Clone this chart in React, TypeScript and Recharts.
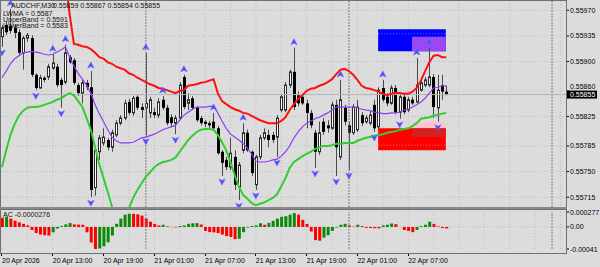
import React from "react";
import {
  ComposedChart,
  Bar,
  Line,
  Scatter,
  XAxis,
  YAxis,
  CartesianGrid,
  ReferenceLine,
  ReferenceArea,
  Cell,
} from "recharts";

const FONT = '"Liberation Sans", Arial, sans-serif';
const BG = "#dcdcdc";

// AUDCHF M30, bars from 20 Apr 07:00 to 22 Apr 11:30
const open = [
  0.55934, 0.5595, 0.55949, 0.55946, 0.5594, 0.55912, 0.55932, 0.55932, 0.55882, 0.55864,
  0.55878, 0.55879, 0.55891, 0.55893, 0.55875, 0.55872, 0.55906, 0.55902, 0.55868, 0.55857,
  0.55871, 0.55865, 0.55728, 0.55777, 0.55789, 0.55793, 0.55783, 0.558, 0.55816, 0.55823,
  0.55845, 0.5583, 0.55852, 0.55838, 0.55837, 0.5583, 0.55831, 0.55827, 0.55848, 0.55837,
  0.55824, 0.55816, 0.55823, 0.55879, 0.55843, 0.5585, 0.55837, 0.55823, 0.55818, 0.55816,
  0.55818, 0.55809, 0.55777, 0.55766, 0.55756, 0.5577, 0.55729, 0.55779, 0.55803, 0.55777,
  0.55732, 0.5577, 0.55796, 0.558, 0.558, 0.55797, 0.55834, 0.55834, 0.55868, 0.55886,
  0.55854, 0.55852, 0.55843, 0.5583, 0.55803, 0.55777, 0.55818, 0.55813, 0.55809, 0.55841,
  0.5577, 0.55837, 0.55813, 0.55803, 0.55807, 0.55827, 0.55818, 0.55816, 0.55841, 0.55811,
  0.55864, 0.55852, 0.55843, 0.55864, 0.55831, 0.55852, 0.55834, 0.55848, 0.55845, 0.55861,
  0.55868, 0.55868, 0.55879, 0.55837, 0.55868, 0.55859,
];
const high = [
  0.5595, 0.55954, 0.55972, 0.55951, 0.55944, 0.55935, 0.55939, 0.55936, 0.55884, 0.55882,
  0.5588, 0.55897, 0.5591, 0.55897, 0.55878, 0.55923, 0.55909, 0.55905, 0.55871, 0.55875,
  0.55875, 0.55887, 0.55783, 0.558, 0.55809, 0.55796, 0.55807, 0.5582, 0.55827, 0.55848,
  0.55849, 0.55853, 0.55854, 0.55843, 0.55912, 0.55852, 0.55837, 0.5585, 0.55853, 0.55841,
  0.55828, 0.55827, 0.55872, 0.55882, 0.55857, 0.55853, 0.55839, 0.55826, 0.5582, 0.55819,
  0.5583, 0.55812, 0.55779, 0.5577, 0.55796, 0.55779, 0.55763, 0.55816, 0.55807, 0.55779,
  0.55773, 0.558, 0.55809, 0.55807, 0.55804, 0.55827, 0.55856, 0.55872, 0.55889, 0.55919,
  0.55859, 0.55856, 0.55848, 0.55834, 0.55807, 0.55818, 0.55823, 0.5582, 0.55845, 0.55848,
  0.55875, 0.55841, 0.55818, 0.55842, 0.55848, 0.55831, 0.55827, 0.55833, 0.55848, 0.55865,
  0.55875, 0.55857, 0.55868, 0.55868, 0.55857, 0.55857, 0.55852, 0.55852, 0.55905, 0.55875,
  0.55879, 0.55919, 0.55883, 0.55882, 0.55882, 0.55867,
];
const low = [
  0.5592, 0.55936, 0.55938, 0.55932, 0.55909, 0.55889, 0.55927, 0.55879, 0.55861, 0.55863,
  0.55872, 0.55875, 0.55889, 0.55865, 0.55837, 0.55869, 0.55897, 0.55868, 0.55853, 0.55843,
  0.55861, 0.55715, 0.55717, 0.55766, 0.55785, 0.55779, 0.55777, 0.55797, 0.55813, 0.5582,
  0.55827, 0.55826, 0.55834, 0.55823, 0.55799, 0.55823, 0.55823, 0.55823, 0.55834, 0.55813,
  0.55812, 0.55801, 0.5582, 0.55835, 0.55834, 0.55834, 0.55818, 0.55813, 0.55811, 0.55809,
  0.55807, 0.55773, 0.55744, 0.55752, 0.55752, 0.55725, 0.55711, 0.55775, 0.55777, 0.55744,
  0.55725, 0.55766, 0.55793, 0.55783, 0.55789, 0.5577, 0.55831, 0.55831, 0.55864, 0.55834,
  0.55839, 0.55841, 0.55809, 0.55809, 0.55755, 0.55773, 0.558, 0.55803, 0.55807, 0.55744,
  0.55766, 0.55813, 0.55752, 0.558, 0.55804, 0.55812, 0.55815, 0.55813, 0.55804, 0.55807,
  0.55845, 0.55839, 0.55841, 0.55828, 0.55822, 0.55828, 0.55831, 0.55841, 0.55843, 0.55859,
  0.55865, 0.55865, 0.55823, 0.55818, 0.55848, 0.55854,
];
const close = [
  0.55946, 0.5594, 0.55942, 0.55939, 0.55912, 0.55932, 0.55936, 0.55882, 0.55864, 0.55878,
  0.55875, 0.55893, 0.55898, 0.55868, 0.55868, 0.55912, 0.55899, 0.55871, 0.55857, 0.55871,
  0.55865, 0.55725, 0.55779, 0.55796, 0.55797, 0.55783, 0.55803, 0.55816, 0.55823, 0.55843,
  0.5583, 0.5585, 0.55837, 0.55834, 0.55843, 0.55848, 0.55827, 0.55845, 0.55837, 0.55816,
  0.55816, 0.55823, 0.55868, 0.55838, 0.55848, 0.55837, 0.5582, 0.55816, 0.55815, 0.55813,
  0.55809, 0.55775, 0.55762, 0.55756, 0.55775, 0.55732, 0.55759, 0.55803, 0.55779, 0.55748,
  0.5577, 0.55796, 0.55803, 0.55793, 0.55793, 0.55823, 0.55852, 0.55868, 0.55886, 0.55838,
  0.55843, 0.55843, 0.5583, 0.55813, 0.55777, 0.55803, 0.55804, 0.55809, 0.55841, 0.55783,
  0.55848, 0.55818, 0.55803, 0.55838, 0.55838, 0.55816, 0.55823, 0.55827, 0.55809, 0.55861,
  0.55848, 0.55843, 0.55864, 0.55831, 0.55852, 0.55831, 0.55848, 0.55843, 0.55868, 0.55871,
  0.55875, 0.55879, 0.55838, 0.55861, 0.55859, 0.55855,
];

const lwma = [
  0.55878, 0.55887, 0.55897, 0.55904, 0.55908, 0.55912, 0.55913, 0.55914, 0.55913, 0.55912,
  0.5591, 0.55909, 0.5591, 0.55913, 0.55916, 0.5592, 0.55906, 0.55894, 0.55884, 0.55876,
  0.55868, 0.55857, 0.55841, 0.55829, 0.55818, 0.55807, 0.55797, 0.55792, 0.55789, 0.55789,
  0.55789, 0.5579, 0.55793, 0.55796, 0.55797, 0.55799, 0.55801, 0.55804, 0.55807, 0.55809,
  0.55811, 0.55813, 0.5582, 0.55827, 0.55831, 0.55835, 0.55838, 0.55838, 0.55838, 0.55839,
  0.55839, 0.5583, 0.55819, 0.55809, 0.55801, 0.55797, 0.55793, 0.55788, 0.55782, 0.55774,
  0.55764, 0.55763, 0.55763, 0.55764, 0.55766, 0.55767, 0.55771, 0.55777, 0.55785, 0.55796,
  0.55804, 0.55811, 0.55816, 0.55819, 0.55822, 0.55824, 0.55827, 0.5583, 0.55834, 0.55838,
  0.55838, 0.55838, 0.55838, 0.55838, 0.55837, 0.55835, 0.55834, 0.55833, 0.55831, 0.5583,
  0.55829, 0.55829, 0.5583, 0.5583, 0.55831, 0.55834, 0.55835, 0.55838, 0.55841, 0.55845,
  0.5585, 0.55857, 0.55864, 0.55865, 0.55867, 0.55867,
];
const upperBand = [
  0.56066, 0.56066, 0.56063, 0.5606, 0.56058, 0.56055, 0.56052, 0.56049, 0.56047, 0.56044,
  0.56041, 0.56039, 0.56036, 0.56033, 0.56025, 0.56011, 0.55964, 0.55924, 0.55923, 0.55921,
  0.5592, 0.55917, 0.55912, 0.55906, 0.55904, 0.55899, 0.55897, 0.55893, 0.55891, 0.55889,
  0.55884, 0.55882, 0.55878, 0.55875, 0.55872, 0.55869, 0.55867, 0.55864, 0.55863, 0.55861,
  0.55859, 0.55857, 0.5586, 0.55861, 0.55867, 0.55868, 0.55869, 0.55871, 0.55872, 0.55874,
  0.55876, 0.55857, 0.55846, 0.55842, 0.55838, 0.55835, 0.55833, 0.5583, 0.55829, 0.55826,
  0.55823, 0.5582, 0.55818, 0.55816, 0.55816, 0.55816, 0.55819, 0.55824, 0.55834, 0.55842,
  0.55849, 0.55854, 0.5586, 0.55863, 0.55864, 0.55867, 0.55869, 0.55872, 0.55876, 0.55883,
  0.55889, 0.5589, 0.55887, 0.55882, 0.55875, 0.55867, 0.55864, 0.55863, 0.55861, 0.55859,
  0.55856, 0.55854, 0.55856, 0.55857, 0.55857, 0.55856, 0.55856, 0.55859, 0.55864, 0.55874,
  0.55887, 0.55899, 0.55908, 0.55909, 0.55906, 0.55906,
];
const lowerBand = [
  0.55756, 0.55779, 0.558, 0.55815, 0.55826, 0.55833, 0.55837, 0.55838, 0.55838, 0.55839,
  0.55841, 0.55843, 0.55845, 0.55848, 0.5585, 0.55854, 0.55857, 0.55854, 0.55846, 0.55838,
  0.55823, 0.55807, 0.55783, 0.5576, 0.55741, 0.55722, 0.55702, 0.55687, 0.55681, 0.55687,
  0.557, 0.55714, 0.55725, 0.55734, 0.55743, 0.55749, 0.55756, 0.5576, 0.55763, 0.55764,
  0.55766, 0.55769, 0.55777, 0.55785, 0.55793, 0.55799, 0.55804, 0.55807, 0.55808, 0.55808,
  0.55807, 0.558, 0.5579, 0.55779, 0.55763, 0.55745, 0.55729, 0.55718, 0.55713, 0.55707,
  0.55704, 0.55706, 0.55708, 0.55711, 0.55714, 0.55719, 0.5573, 0.55741, 0.55755, 0.55763,
  0.55767, 0.55771, 0.55774, 0.55777, 0.55781, 0.55783, 0.55785, 0.55785, 0.55786, 0.55788,
  0.55788, 0.55789, 0.55789, 0.55789, 0.55792, 0.55794, 0.55796, 0.55797, 0.55799, 0.558,
  0.55801, 0.55803, 0.55804, 0.55805, 0.55807, 0.55808, 0.55809, 0.55812, 0.55816, 0.55822,
  0.55823, 0.55824, 0.55826, 0.55827, 0.55829, 0.5583,
];

// Accelerator oscillator
const ac = [
  0.000171, 0.000188, 0.000154, 0.000114, 0.000085, 0.000057, 0.000028, -0.000057, -0.000114, -0.000142,
  -0.000154, -0.00016, -0.0001, -0.00003, 0.000018, 0.000047, 0.000071, 0.000047, 0.000042, 0.00004,
  -0.0001, -0.00029, -0.00041, -0.0004, -0.00036, -0.000285, -0.00016, 0.000057, 0.000154, 0.000228,
  0.000245, 0.000242, 0.000233, 0.00021, 0.000154, 0.000097, 0.000057, 0.000028, 0.00004, 0.000011,
  -0.000005, -0.00001, 0.000017, 0.000028, 0.000057, 0.000068, 0.00007, 0.000045, -0.000074, -0.000097,
  -0.000102, -0.000114, -0.000142, -0.000171, -0.000188, -0.000228, -0.00022, -0.000097, -0.000011, 0.000017,
  0.000028, 0.000068, 0.00004, 0.000074, 0.000114, 0.000154, 0.000188, 0.000199, 0.000228, 0.000256,
  0.000228, 0.000131, 0.000057, -0.000085, -0.000245, -0.000256, -0.000199, -0.000154, -0.000074, -0.000011,
  0.00004, 0.000057, 0.000028, 0.000006, 0.00004, 0.000017, -0.000017, -0.00002, -0.000023, -0.000025,
  0.000028, 0.00004, 0.000063, 0.000051, 0, -0.000057, -0.000074, -0.000097, -0.000057, 0.000017,
  0.00004, 0.000097, 0.000057, 0.000011, -0.00002, -0.0000276,
];

const upFractals = [2, 12, 15, 21, 34, 38, 43, 50, 57, 69, 80, 90, 98, 101];
const downFractals = [0, 8, 14, 21, 34, 41, 52, 56, 60, 65, 74, 79, 82, 88, 94, 103];

const priceTicks = [0.5597, 0.55935, 0.559, 0.5586, 0.55825, 0.55785, 0.5575, 0.55715];
const bidPrice = 0.55855;
const acTicks = [0.000277, 0, -0.00041];

const timeTickBars = [0, 12, 24, 36, 48, 60, 72, 84, 96];
const timeLabels = [
  "20 Apr 2026",
  "20 Apr 13:00",
  "20 Apr 19:00",
  "21 Apr 01:00",
  "21 Apr 07:00",
  "21 Apr 13:00",
  "21 Apr 19:00",
  "22 Apr 01:00",
  "22 Apr 07:00",
];
const gridBars = [0, 6, 12, 18, 24, 30, 36, 42, 48, 54, 60, 66, 72, 78, 84, 90, 96, 102, 108, 114, 120, 126, 132];
const daySeparators = [34, 82, 130];

// supply / demand boxes: bar index range and price range
const supplyZone = { from: 88.9, to: 104.9, top: 0.55944, bottom: 0.55914, mid: 0.55938 };
const supplyInner = { from: 96.9, to: 104.9, top: 0.55934, bottom: 0.55914 };
const demandZone = { from: 88.9, to: 104.9, top: 0.55809, bottom: 0.55779, mid: 0.55786 };
const demandPink = { from: 96.9, to: 104.9, top: 0.55818, bottom: 0.55809 };
const demandInner = { from: 96.9, to: 104.9, top: 0.55809, bottom: 0.55797 };

const X_DOMAIN: [number, number] = [-0.236, 133.3];
const PRICE_DOMAIN: [number, number] = [0.5570165, 0.5598264];

const bars = open.map((o, i) => ({
  i,
  open: o,
  high: high[i],
  low: low[i],
  close: close[i],
  lwma: lwma[i],
  upper: upperBand[i],
  lower: lowerBand[i],
}));
const acData = ac.map((v, i) => ({ i, ac: v }));
const upData = upFractals.map((i) => ({ i, v: high[i] }));
const downData = downFractals.map((i) => ({ i, v: low[i] }));

function Candle(props: any) {
  const { x, y, width, height, payload } = props;
  if (!payload || x == null || y == null) return null;
  const top = Math.min(y, y + height);
  const h = Math.abs(height);
  const span = payload.high - payload.low || 1e-9;
  const py = (v: number) => top + ((payload.high - v) / span) * h;
  const cx = Math.floor(x + width / 2) + 0.5;
  const bodyTop = py(Math.max(payload.open, payload.close));
  const bodyBot = py(Math.min(payload.open, payload.close));
  const bull = payload.close >= payload.open;
  return (
    <g>
      <line x1={cx} x2={cx} y1={top} y2={top + h} stroke="#4a4a4a" strokeWidth={1} />
      {bull ? (
        <rect x={cx - 1} y={bodyTop} width={2} height={Math.max(bodyBot - bodyTop, 1)} fill="#ffffff" stroke="#2a2a2a" strokeWidth={1} />
      ) : (
        <rect x={cx - 1.5} y={bodyTop} width={3} height={Math.max(bodyBot - bodyTop, 1)} fill="#000000" />
      )}
    </g>
  );
}

function UpArrow(props: any) {
  const { cx, cy } = props;
  if (cx == null || cy == null) return null;
  return (
    <path
      d={`M${cx},${cy - 9} L${cx + 3.2},${cy - 3} L${cx},${cy - 4.5} L${cx - 3.2},${cy - 3} Z`}
      fill="#4b4bff"
      stroke="#6a6aff"
      strokeWidth={0.6}
    />
  );
}

function DownArrow(props: any) {
  const { cx, cy } = props;
  if (cx == null || cy == null) return null;
  return (
    <path
      d={`M${cx},${cy + 9} L${cx + 3.2},${cy + 3} L${cx},${cy + 4.5} L${cx - 3.2},${cy + 3} Z`}
      fill="#4b4bff"
      stroke="#6a6aff"
      strokeWidth={0.6}
    />
  );
}

function PriceTick(props: any) {
  const { x, y, payload } = props;
  const v = payload.value;
  if (Math.abs(v - bidPrice) < 1e-9) {
    return (
      <g>
        <rect x={566} y={y - 4} width={31} height={8} fill="#000000" />
        <text x={x} y={y} dy={2.5} fontSize={7} fontFamily={FONT} fill="#ffffff">
          {v.toFixed(5)}
        </text>
      </g>
    );
  }
  // a label right above the bid box is pushed up so the box does not cover it
  const nearBid = Math.abs(v - bidPrice) < 0.0001 && v > bidPrice;
  return (
    <text x={x} y={y} dy={nearBid ? -2.2 : 2.5} fontSize={7} fontFamily={FONT} fill="#000000">
      {v.toFixed(5)}
    </text>
  );
}

function AcTick(props: any) {
  const { x, y, payload } = props;
  const v = payload.value;
  const label = v === 0 ? "0.00" : String(v);
  return (
    <text x={x} y={y} dy={2.5} fontSize={7} fontFamily={FONT} fill="#000000">
      {label}
    </text>
  );
}

function TimeTick(props: any) {
  const { x, payload } = props;
  const k = timeTickBars.indexOf(payload.value);
  const px = Math.floor(x) + 0.5;
  return (
    <g>
      <line x1={px} x2={px} y1={45} y2={48} stroke="#000000" />
      <text x={x} y={55} fontSize={7} fontFamily={FONT} fill="#000000">
        {k >= 0 ? timeLabels[k] : ""}
      </text>
    </g>
  );
}

const textStyle: React.CSSProperties = {
  position: "absolute",
  fontFamily: FONT,
  fontSize: 7,
  lineHeight: "7px",
  color: "#111111",
  whiteSpace: "pre",
  pointerEvents: "none",
};

export default function App() {
  const last = open.length - 1;
  const header = `${open[last].toFixed(5)} ${high[last].toFixed(5)} ${low[last].toFixed(5)} ${close[last].toFixed(5)}`;
  const acColor = (i: number) => (i > 0 && ac[i] > ac[i - 1] ? "#0a8a0a" : "#ff0000");

  return (
    <div style={{ position: "absolute", left: 0, top: 0, width: 600, height: 267, background: BG, overflow: "hidden" }}>
      <div style={{ position: "absolute", left: 0, top: 0 }}>
        <ComposedChart width={600} height={208} data={bars} margin={{ top: 1, right: 0, bottom: 1, left: 1 }}>
          <CartesianGrid
            stroke="#bdbdbd"
            strokeDasharray="1 2"
            horizontalValues={priceTicks}
            verticalValues={gridBars}
          />
          <XAxis dataKey="i" type="number" domain={X_DOMAIN} allowDataOverflow hide />
          <YAxis
            orientation="right"
            width={34}
            type="number"
            domain={PRICE_DOMAIN}
            allowDataOverflow
            ticks={[...priceTicks, bidPrice]}
            interval={0}
            axisLine={false}
            tickLine={{ stroke: "#000000" }}
            tickSize={3}
            tickMargin={1}
            tick={<PriceTick />}
          />
          {daySeparators.map((d) => (
            <ReferenceLine key={d} x={d} stroke="#7c7c7c" strokeDasharray="2 1" />
          ))}
          <ReferenceLine y={bidPrice} stroke="#b4b4b4" />
          <ReferenceArea x1={supplyZone.from} x2={supplyZone.to} y1={supplyZone.bottom} y2={supplyZone.top} fill="#0000ff" fillOpacity={1} stroke="none" />
          <ReferenceArea x1={supplyInner.from} x2={supplyInner.to} y1={supplyInner.bottom} y2={supplyInner.top} fill="#9a48f0" fillOpacity={1} stroke="none" />
          <ReferenceLine
            segment={[
              { x: supplyZone.from, y: supplyZone.mid },
              { x: supplyZone.to, y: supplyZone.mid },
            ]}
            stroke="#ffffff"
            strokeOpacity={0.4}
            strokeDasharray="1 2"
          />
          <ReferenceArea x1={demandZone.from} x2={demandZone.to} y1={demandZone.bottom} y2={demandZone.top} fill="#ff0000" fillOpacity={1} stroke="none" />
          <ReferenceArea x1={demandPink.from} x2={demandPink.to} y1={demandPink.bottom} y2={demandPink.top} fill="#ffc4cc" fillOpacity={1} stroke="none" />
          <ReferenceArea x1={demandInner.from} x2={demandInner.to} y1={demandInner.bottom} y2={demandInner.top} fill="#d42222" fillOpacity={1} stroke="none" />
          <ReferenceLine
            segment={[
              { x: demandZone.from, y: demandZone.mid },
              { x: demandZone.to, y: demandZone.mid },
            ]}
            stroke="#ffffff"
            strokeOpacity={0.4}
            strokeDasharray="1 2"
          />
          <Bar dataKey={(d: any) => [d.low, d.high]} barSize={3} shape={<Candle />} isAnimationActive={false} />
          <Line type="linear" dataKey="lower" stroke="#33cc33" strokeWidth={2} dot={false} isAnimationActive={false} />
          <Line type="linear" dataKey="upper" stroke="#ff1010" strokeWidth={2} dot={false} isAnimationActive={false} />
          <Line type="linear" dataKey="lwma" stroke="#8e3ef0" strokeWidth={1.2} dot={false} isAnimationActive={false} />
          <Scatter data={upData} dataKey="v" shape={<UpArrow />} isAnimationActive={false} />
          <Scatter data={downData} dataKey="v" shape={<DownArrow />} isAnimationActive={false} />
        </ComposedChart>
      </div>

      <div style={{ position: "absolute", left: 0, top: 208 }}>
        <ComposedChart width={600} height={59} data={acData} margin={{ top: 4, right: 0, bottom: 0, left: 1 }}>
          <CartesianGrid stroke="#bdbdbd" strokeDasharray="1 2" horizontalValues={[0]} verticalValues={gridBars} />
          <XAxis
            dataKey="i"
            type="number"
            domain={X_DOMAIN}
            allowDataOverflow
            ticks={timeTickBars}
            interval={0}
            height={18}
            axisLine={false}
            tickLine={false}
            tick={<TimeTick />}
          />
          <YAxis
            orientation="right"
            width={34}
            type="number"
            domain={[-0.00041, 0.000277]}
            allowDataOverflow
            ticks={acTicks}
            interval={0}
            axisLine={false}
            tickLine={{ stroke: "#000000" }}
            tickSize={3}
            tickMargin={1}
            tick={<AcTick />}
          />
          {daySeparators.map((d) => (
            <ReferenceLine key={d} x={d} stroke="#7c7c7c" strokeDasharray="2 1" />
          ))}
          <Bar dataKey="ac" barSize={3} isAnimationActive={false}>
            {acData.map((d) => (
              <Cell key={d.i} fill={acColor(d.i)} />
            ))}
          </Bar>
        </ComposedChart>
      </div>

      {/* window frames */}
      <div style={{ position: "absolute", left: 0, top: 0, width: 567, height: 208, border: "1px solid #707070", boxSizing: "border-box", pointerEvents: "none" }} />
      <div style={{ position: "absolute", left: 0, top: 207, width: 567, height: 3, background: "#8a8a8a", pointerEvents: "none" }} />
      <div style={{ position: "absolute", left: 0, top: 209, width: 567, height: 45, border: "1px solid #707070", boxSizing: "border-box", pointerEvents: "none" }} />

      <div style={{ ...textStyle, left: 11, top: 2 }}>AUDCHF,M30</div>
      <div style={{ ...textStyle, left: 53, top: 2 }}>{header}</div>
      <div style={{ ...textStyle, left: 3, top: 9.5 }}>{`LWMA = ${lwma[last].toFixed(4)}`}</div>
      <div style={{ ...textStyle, left: 3, top: 15.5 }}>{`UpperBand = ${upperBand[last].toFixed(4)}`}</div>
      <div style={{ ...textStyle, left: 3, top: 21.5 }}>{`LowerBand = ${lowerBand[last].toFixed(4)}`}</div>
      <div style={{ ...textStyle, left: 3, top: 211 }}>{`AC ${ac[last].toFixed(7)}`}</div>
    </div>
  );
}
